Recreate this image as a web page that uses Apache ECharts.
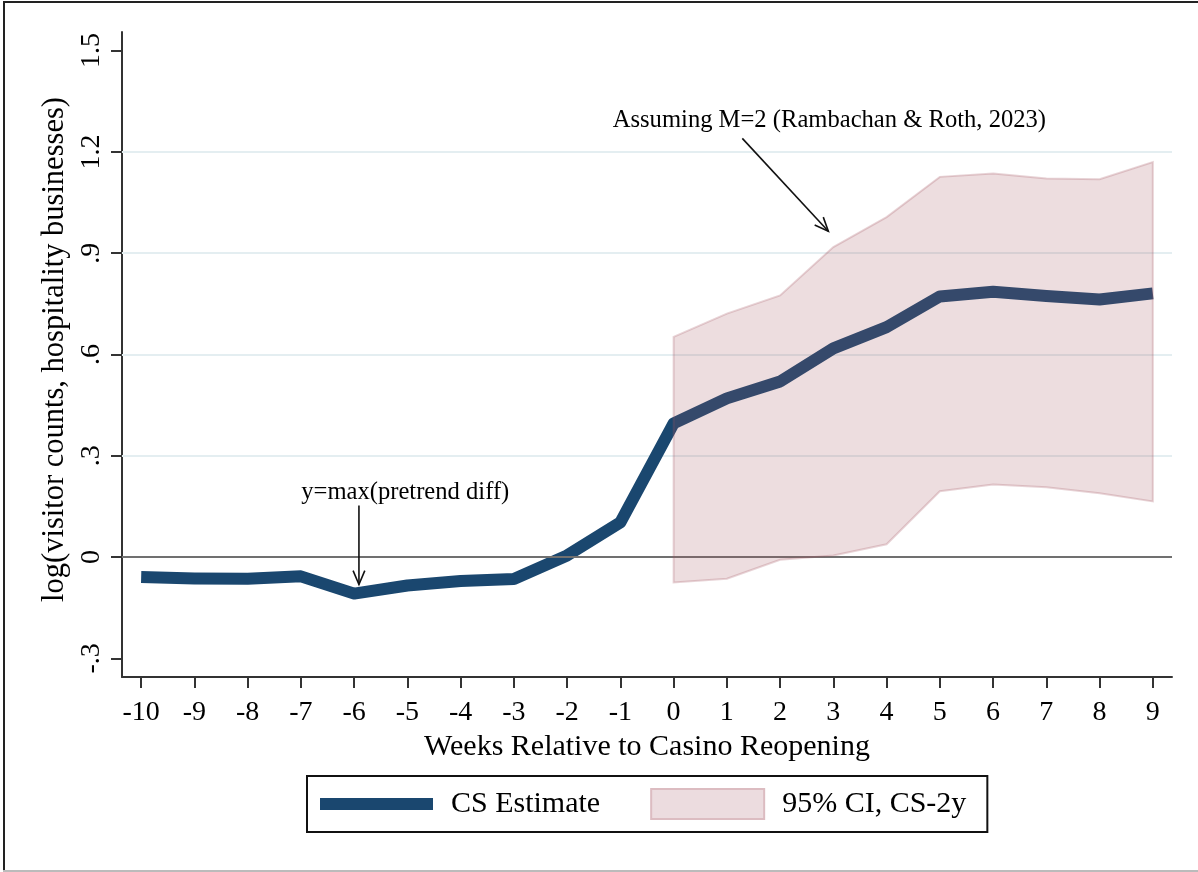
<!DOCTYPE html>
<html><head><meta charset="utf-8">
<script src="https://cdn.jsdelivr.net/npm/echarts@6/dist/echarts.min.js"></script>
<style>html,body{margin:0;padding:0;background:#fff}#c{width:1198px;height:872px}</style>
</head><body><div id="c"></div>
<script>
// ---- data ----
const weeks = [-10,-9,-8,-7,-6,-5,-4,-3,-2,-1,0,1,2,3,4,5,6,7,8,9];
const csEstimate = [-0.059,-0.063,-0.064,-0.057,-0.108,-0.084,-0.071,-0.065,0.005,0.103,0.396,0.470,0.520,0.618,0.681,0.772,0.786,0.773,0.763,0.781];
const ciWeeks = [0,1,2,3,4,5,6,7,8,9];
const ciUpper = [0.652,0.721,0.775,0.918,1.007,1.126,1.136,1.121,1.119,1.170];
const ciLower = [-0.075,-0.064,-0.008,0.005,0.038,0.195,0.215,0.207,0.189,0.165];
const xTicks = [-10,-9,-8,-7,-6,-5,-4,-3,-2,-1,0,1,2,3,4,5,6,7,8,9];
const yTicks = [-0.3,0,0.3,0.6,0.9,1.2,1.5];
const yTickLabels = ['-.3','0','.3','.6','.9','1.2','1.5'];
const gridValues = [0.3,0.6,0.9,1.2];
const refLineValue = 0;
const annoTexts = ['Assuming M=2 (Rambachan & Roth, 2023)','y=max(pretrend diff)'];
const annoTextPos = [[2.925,1.2935],[-5.04,0.1925]];
const annoArrowFrom = [[1.29,1.240],[-5.91,0.153]];
const annoArrowTo = [[2.906,0.965],[-5.91,-0.081]];
const seriesNames = ['CS Estimate','95% CI, CS-2y'];
const xTitle = 'Weeks Relative to Casino Reopening';
const yTitle = 'log(visitor counts, hospitality businesses)';

const FONT = '"Liberation Serif", "Times New Roman", serif';
const NAVY = '#1a476f';
const CI_FILL = 'rgba(165,85,95,0.2)';
const CI_LINE = 'rgba(165,85,95,0.25)';
const BAR_ICON = 'path://M0,0 H113 V12 H0 Z';

const chart = echarts.init(document.getElementById('c'), null, {renderer:'canvas'});

const option = {
  animation: false,
  backgroundColor: '#fff',
  grid: {left:122, right:26, top:32, bottom:195},
  xAxis: {
    type:'value', min:-10.36, max:9.36,
    axisLine:{show:true, onZero:false, lineStyle:{color:'#333', width:2}},
    axisTick:{show:true, length:11, customValues:xTicks, lineStyle:{color:'#333', width:2}},
    axisLabel:{customValues:xTicks, fontSize:28, fontFamily:FONT, color:'#000', margin:22, formatter:v=>String(v)},
    splitLine:{show:false},
    name:xTitle, nameLocation:'middle', nameGap:52,
    nameTextStyle:{fontSize:30, fontFamily:FONT, color:'#000'}
  },
  yAxis: {
    type:'value', min:-0.355, max:1.555,
    axisLine:{show:true, onZero:false, lineStyle:{color:'#333', width:2}},
    axisTick:{show:true, length:11, customValues:yTicks, lineStyle:{color:'#333', width:2}},
    axisLabel:{customValues:yTicks, rotate:90, fontSize:28, fontFamily:FONT, color:'#000', margin:16,
      formatter:v=>{const i=yTicks.findIndex(t=>Math.abs(t-v)<1e-6); return i>=0?yTickLabels[i]:'';}},
    splitLine:{show:false},
    name:yTitle, nameLocation:'middle', nameGap:49, nameRotate:90,
    nameTextStyle:{fontSize:30.5, fontFamily:FONT, color:'#000', padding:[0,0,0,10]}
  },
  legend: {
    left:307, top:776, orient:'horizontal', itemWidth:113, itemHeight:30, itemGap:50,
    padding:[12,21,12,13], borderColor:'#111', borderWidth:2, borderRadius:0, selectedMode:false,
    textStyle:{fontSize:30, fontFamily:FONT, color:'#000', padding:[0,0,0,13]},
    data:[
      {name:seriesNames[0], icon:BAR_ICON, itemStyle:{color:NAVY}},
      {name:seriesNames[1], icon:'rect', itemStyle:{color:'#ecdcdf', borderColor:'#dcbcc1', borderWidth:2}}
    ]
  },
  series: [
    {
      type:'line', name:seriesNames[0], z:2, symbol:'none', showSymbol:false,
      data: weeks.map((w,i)=>[w,csEstimate[i]]),
      lineStyle:{color:NAVY, width:12, cap:'butt', join:'round'},
      itemStyle:{color:NAVY},
      markLine:{silent:true, z:1, symbol:'none', label:{show:false},
        lineStyle:{color:'#e4eef1', width:2, type:'solid'},
        data: gridValues.map(v=>({yAxis:v}))}
    },
    {
      type:'custom', name:seriesNames[1], z:4,
      data: ciWeeks.map((w,i)=>[w,ciLower[i],ciUpper[i]]),
      encode:{x:0, y:[1,2]},
      itemStyle:{color:CI_FILL},
      renderItem:(params, api)=>{
        if (params.dataIndex !== 0) return null;
        const pts = [];
        for (let i=0;i<ciWeeks.length;i++) pts.push(api.coord([ciWeeks[i], ciUpper[i]]));
        for (let i=ciWeeks.length-1;i>=0;i--) pts.push(api.coord([ciWeeks[i], ciLower[i]]));
        return {type:'polygon', shape:{points:pts}, style:{fill:CI_FILL, stroke:CI_LINE, lineWidth:2}};
      },
      markLine:{silent:true, z:3, symbol:'none', label:{show:false},
        lineStyle:{color:'#707070', width:2, type:'solid'},
        data:[{yAxis:refLineValue}]}
    }
  ]
};
chart.setOption(option);

const g = [
  {type:'line', shape:{x1:3,y1:2,x2:1198,y2:2}, style:{stroke:'#222', lineWidth:2}},
  {type:'line', shape:{x1:4,y1:1,x2:4,y2:871}, style:{stroke:'#222', lineWidth:2}},
  {type:'line', shape:{x1:3,y1:871,x2:1198,y2:871}, style:{stroke:'#bbb', lineWidth:2}}
];
annoTexts.forEach((t,i)=>{
  const p = chart.convertToPixel({gridIndex:0}, annoTextPos[i]);
  g.push({type:'text', x:p[0], y:p[1], z:20,
    style:{text:t, fontSize:24.6, fontFamily:FONT, fill:'#000', align:'center', verticalAlign:'middle'}});
  // arrow: shaft + open head, positioned through the axes' scales
  const a = chart.convertToPixel({gridIndex:0}, annoArrowFrom[i]);
  const b = chart.convertToPixel({gridIndex:0}, annoArrowTo[i]);
  const ang = Math.atan2(a[1]-b[1], a[0]-b[0]);
  const L = 15, th = 23*Math.PI/180;
  const h1 = [b[0]+L*Math.cos(ang+th), b[1]+L*Math.sin(ang+th)];
  const h2 = [b[0]+L*Math.cos(ang-th), b[1]+L*Math.sin(ang-th)];
  g.push({type:'line', z:20, shape:{x1:a[0],y1:a[1],x2:b[0],y2:b[1]}, style:{stroke:'#111', lineWidth:1.6}});
  g.push({type:'polyline', z:20, shape:{points:[h1,b,h2]}, style:{stroke:'#111', lineWidth:1.6, fill:null}});
});
chart.setOption({graphic:g});
</script>
</body></html>
